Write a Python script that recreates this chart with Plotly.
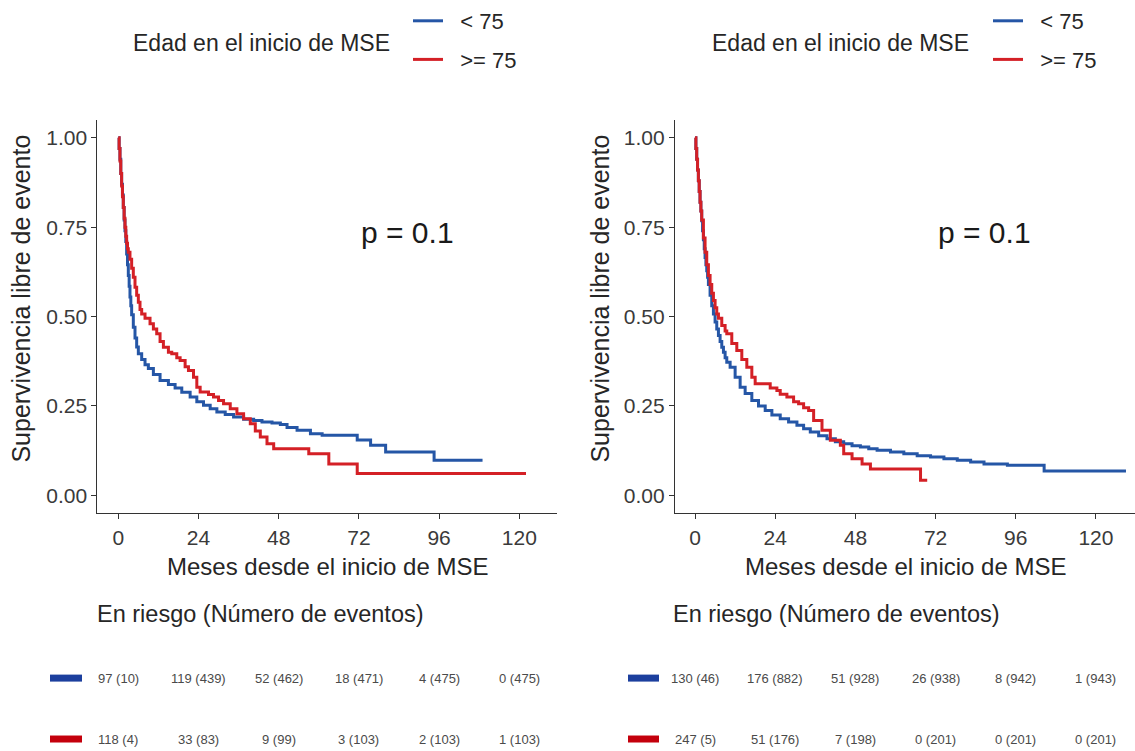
import plotly.graph_objects as go

# ---- Kaplan-Meier step data (months, survival) ----
# Left panel
left_lt75_t = [0, 0.25, 0.5, 0.75, 1, 1.25, 1.5, 1.75, 2, 2.25, 2.5, 2.75, 3, 3.25, 3.5, 3.75,
               4, 4.5, 5, 5.5, 6, 7, 8, 9, 10.5, 12.5, 15, 17, 19, 21.5, 23.5, 25.5, 27.5,
               29.5, 32, 34.5, 37.5, 40.5, 43, 46, 48.5, 50.5, 53.5, 57.5, 61, 71.5, 75.5, 80,
               94.5, 109]
left_lt75_s = [1.0, 0.97, 0.94, 0.90, 0.87, 0.84, 0.805, 0.77, 0.74, 0.71, 0.675, 0.645, 0.615,
               0.585, 0.555, 0.53, 0.505, 0.47, 0.44, 0.415, 0.396, 0.38, 0.365, 0.355, 0.338,
               0.321, 0.31, 0.30, 0.288, 0.275, 0.262, 0.252, 0.242, 0.233, 0.226, 0.219,
               0.213, 0.209, 0.205, 0.202, 0.198, 0.19, 0.182, 0.172, 0.168, 0.155, 0.14,
               0.121, 0.098, 0.098]

left_ge75_t = [0, 0.25, 0.5, 0.75, 1, 1.25, 1.5, 1.75, 2, 2.25, 2.5, 2.75, 3, 3.5, 4, 4.5, 5,
               5.5, 6, 6.5, 7, 8, 9.5, 10.5, 11.5, 12.5, 13.5, 15, 16, 17.5, 18.5, 20, 21,
               22.5, 23.5, 24.5, 27, 28.5, 30, 31.5, 33.5, 35.5, 37.5, 39.5, 41, 42.5, 44.5,
               46.5, 57, 63, 71.5, 122]
left_ge75_s = [1.0, 0.97, 0.935, 0.90, 0.865, 0.835, 0.805, 0.775, 0.75, 0.725, 0.705, 0.69,
               0.68, 0.66, 0.635, 0.61, 0.582, 0.56, 0.54, 0.52, 0.507, 0.495, 0.48, 0.465,
               0.452, 0.43, 0.414, 0.40, 0.396, 0.385, 0.377, 0.36, 0.349, 0.33, 0.302, 0.289,
               0.282, 0.275, 0.265, 0.256, 0.242, 0.228, 0.214, 0.20, 0.18, 0.163, 0.144,
               0.13, 0.116, 0.088, 0.061, 0.061]

# Right panel
right_lt75_t = [0, 0.25, 0.5, 0.75, 1, 1.25, 1.5, 1.75, 2, 2.25, 2.5, 2.75, 3, 3.25, 3.5, 3.75,
                4, 4.5, 5, 5.5, 6, 6.5, 7, 7.5, 8, 8.5, 9, 9.5, 10.5, 12, 13.5, 15, 17, 19, 21,
                23, 25.5, 28, 30.5, 32.5, 34.5, 37, 39.5, 42, 44.5, 47, 49.5, 52, 54.5, 58.5,
                62.5, 66.5, 70.5, 74.5, 78.5, 82.5, 86.5, 93.5, 104.5, 129]
right_lt75_s = [1.0, 0.97, 0.94, 0.91, 0.88, 0.85, 0.82, 0.795, 0.768, 0.74, 0.715, 0.69, 0.665,
                0.645, 0.628, 0.61, 0.59, 0.56, 0.53, 0.507, 0.485, 0.465, 0.447, 0.43, 0.414,
                0.40, 0.385, 0.372, 0.358, 0.33, 0.302, 0.285, 0.265, 0.25, 0.237, 0.225,
                0.214, 0.205, 0.196, 0.186, 0.177, 0.167, 0.158, 0.15, 0.144, 0.139, 0.135,
                0.13, 0.126, 0.121, 0.116, 0.111, 0.107, 0.102, 0.098, 0.093, 0.088, 0.084,
                0.068, 0.068]

right_ge75_t = [0, 0.25, 0.5, 0.75, 1, 1.25, 1.5, 1.75, 2, 2.5, 3, 3.5, 4, 4.5, 5, 5.5, 6, 6.5,
                7, 8, 9, 9.5, 11, 12.5, 14, 15.5, 17, 18, 22.5, 24.5, 25.5, 27.5, 29.5, 31,
                32.5, 34, 35.5, 38, 40.5, 43.5, 44.5, 47, 50, 52.5, 67.5, 69.5]
right_ge75_s = [1.0, 0.97, 0.94, 0.91, 0.88, 0.85, 0.82, 0.795, 0.77, 0.72, 0.68, 0.645, 0.615,
                0.59, 0.565, 0.545, 0.525, 0.507, 0.495, 0.475, 0.46, 0.452, 0.425, 0.405,
                0.38, 0.358, 0.33, 0.312, 0.30, 0.293, 0.283, 0.275, 0.262, 0.256, 0.245,
                0.237, 0.209, 0.182, 0.154, 0.14, 0.116, 0.102, 0.088, 0.074, 0.042, 0.042]

# ---- Risk table ----
risk_times = [0, 24, 48, 72, 96, 120]
left_lt75_risk = [97, 119, 52, 18, 4, 0]
left_lt75_events = [10, 439, 462, 471, 475, 475]
left_ge75_risk = [118, 33, 9, 3, 2, 1]
left_ge75_events = [4, 83, 99, 103, 103, 103]
right_lt75_risk = [130, 176, 51, 26, 8, 1]
right_lt75_events = [46, 882, 928, 938, 942, 943]
right_ge75_risk = [247, 51, 7, 0, 0, 0]
right_ge75_events = [5, 176, 198, 201, 201, 201]

group_labels = ["< 75", ">= 75"]
x_ticks = [0, 24, 48, 72, 96, 120]
y_ticks = [0, 0.25, 0.5, 0.75, 1.0]
p_value_text = "p = 0.1"

BLUE = "#2556a6"
RED = "#d42026"
KEY_BLUE = "#1c3f9e"
KEY_RED = "#c4000c"
FONT = "Liberation Sans, Arial, sans-serif"
TEXT = "#262626"
W, H = 1135, 751


def px(x):
    return x / W


def py(y):
    return 1 - y / H


fig = go.Figure()

panels = [
    ("x", "y", "legend", left_lt75_t, left_lt75_s, left_ge75_t, left_ge75_s),
    ("x2", "y2", "legend2", right_lt75_t, right_lt75_s, right_ge75_t, right_ge75_s),
]
for xa, ya, leg, t1, s1, t2, s2 in panels:
    for (t, s, color, name, grp) in [(t1, s1, BLUE, group_labels[0], "a"),
                                      (t2, s2, RED, group_labels[1], "b")]:
        fig.add_trace(go.Scatter(
            x=t, y=s, mode="lines", name="\u00a0\u00a0" + name,
            line=dict(color=color, width=3, shape="hv"),
            xaxis=xa, yaxis=ya, legend=leg, legendgroup=leg + grp, hoverinfo="skip",
        ))

axis_common = dict(
    showline=True, linecolor="#333333", linewidth=1.2, ticks="outside", ticklen=5,
    tickcolor="#333333", tickwidth=1.2, showgrid=False, zeroline=False,
    tickfont=dict(family=FONT, size=21, color="#3a3a3a"),
)
y_dom = [py(512.9), py(119.1)]
fig.update_layout(
    xaxis=dict(domain=[px(97.4), px(556.9)], range=[-6.25, 131.25], tickvals=x_ticks,
               anchor="y", **axis_common),
    yaxis=dict(domain=y_dom, range=[-0.05, 1.05], tickvals=y_ticks, tickformat=".2f",
               anchor="x", **axis_common),
    xaxis2=dict(domain=[px(675), 1.0], range=[-6, 131.7], tickvals=x_ticks,
                anchor="y2", **axis_common),
    yaxis2=dict(domain=y_dom, range=[-0.05, 1.05], tickvals=y_ticks, tickformat=".2f",
                anchor="x2", **axis_common),
)

legend_common = dict(
    xanchor="left", yanchor="top", font=dict(family=FONT, size=22, color=TEXT),
    bgcolor="rgba(0,0,0,0)", tracegroupgap=7, itemwidth=30, traceorder="grouped",
)
fig.update_layout(
    legend=dict(x=px(408), y=py(-1), **legend_common),
    legend2=dict(x=px(988), y=py(-1), **legend_common),
)

annotations = []

# legend titles
for rx in [392, 971]:
    annotations.append(dict(text="Edad en el inicio de MSE", xref="paper", yref="paper",
                            x=px(rx), y=py(42), xanchor="right", yanchor="middle",
                            showarrow=False, font=dict(family=FONT, size=23, color=TEXT)))

# p-values
for xa, ya in [("x", "y"), ("x2", "y2")]:
    annotations.append(dict(text=p_value_text, xref=xa, yref=ya, x=86.6, y=0.735,
                            xanchor="center", yanchor="middle", showarrow=False,
                            font=dict(family=FONT, size=30, color="#1a1a1a")))

# axis titles
for cx in [328, 906]:
    annotations.append(dict(text="Meses desde el inicio de MSE", xref="paper", yref="paper",
                            x=px(cx), y=py(566), xanchor="center", yanchor="middle",
                            showarrow=False, font=dict(family=FONT, size=24, color=TEXT)))
for cx in [21, 600]:
    annotations.append(dict(text="Supervivencia libre de evento", xref="paper", yref="paper",
                            x=px(cx), y=py(298), xanchor="center", yanchor="middle",
                            textangle=-90, showarrow=False,
                            font=dict(family=FONT, size=25, color=TEXT)))

# risk table titles
for lx in [95, 671]:
    annotations.append(dict(text="En riesgo (Número de eventos)", xref="paper", yref="paper",
                            x=px(lx), y=py(614), xanchor="left", yanchor="middle",
                            showarrow=False, font=dict(family=FONT, size=23.5, color=TEXT)))

# risk table rows
rows = [
    ("x", left_lt75_risk, left_lt75_events, 678),
    ("x", left_ge75_risk, left_ge75_events, 739),
    ("x2", right_lt75_risk, right_lt75_events, 678),
    ("x2", right_ge75_risk, right_ge75_events, 739),
]
for xa, risk, ev, yrow in rows:
    for t, r, e in zip(risk_times, risk, ev):
        annotations.append(dict(text=f"{r} ({e})", xref=xa, yref="paper", x=t, y=py(yrow),
                                xanchor="center", yanchor="middle", showarrow=False,
                                font=dict(family=FONT, size=13, color="#4a4a4a")))

shapes = []
for x0, x1 in [(50, 82), (628, 659)]:
    for yrow, col in [(678, KEY_BLUE), (739, KEY_RED)]:
        shapes.append(dict(type="rect", xref="paper", yref="paper", x0=px(x0), x1=px(x1),
                           y0=py(yrow + 3.5), y1=py(yrow - 3.5), fillcolor=col,
                           line=dict(width=0)))

fig.update_layout(
    annotations=annotations, shapes=shapes,
    width=W, height=H, margin=dict(l=0, r=0, t=0, b=0),
    paper_bgcolor="white", plot_bgcolor="white", showlegend=True,
    font=dict(family=FONT),
)

fig.write_html("out.html")
